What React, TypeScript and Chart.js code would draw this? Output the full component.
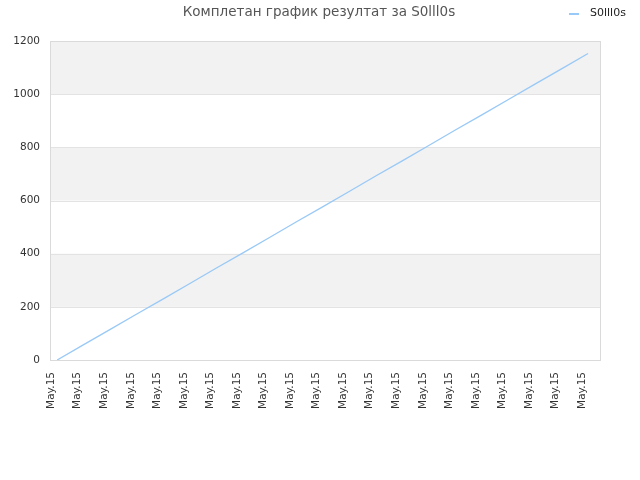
import React, { useEffect, useRef } from "react";
import { Chart, registerables } from "chart.js";

Chart.register(...registerables);

const TITLE = "Комплетан график резултат за S0lll0s";
const SERIES_LABEL = "S0lll0s";
const X_LABELS = Array(21).fill("May.15");
const SERIES_VALUES = [0, 58, 115, 173, 230, 288, 346, 403, 461, 519, 576, 634, 692, 749, 807, 865, 922, 980, 1038, 1095, 1153];
const Y_MIN = 0;
const Y_MAX = 1200;
const Y_STEP = 200;

const FONT = "'DejaVu Sans', sans-serif";
const LINE_COLOR = "#99c9f7";

const bandsPlugin = {
  id: "bands",
  beforeDatasetsDraw(chart: any) {
    const { ctx, chartArea, scales } = chart;
    const y = scales.y;
    ctx.save();
    ctx.fillStyle = "#f2f2f2";
    for (let v = Y_MIN + Y_STEP; v < Y_MAX; v += Y_STEP * 2) {
      const top = y.getPixelForValue(v + Y_STEP);
      const bottom = y.getPixelForValue(v);
      ctx.fillRect(chartArea.left, top, chartArea.right - chartArea.left, bottom - top);
    }
    ctx.strokeStyle = "#e3e3e3";
    ctx.lineWidth = 1;
    for (let v = Y_MIN; v <= Y_MAX; v += Y_STEP) {
      const py = Math.round(y.getPixelForValue(v)) + 0.5;
      ctx.beginPath();
      ctx.moveTo(chartArea.left, py);
      ctx.lineTo(chartArea.right, py);
      ctx.stroke();
    }
    ctx.strokeStyle = "#dadada";
    ctx.strokeRect(
      Math.round(chartArea.left) + 0.5,
      Math.round(chartArea.top) + 0.5,
      Math.round(chartArea.right - chartArea.left),
      Math.round(chartArea.bottom - chartArea.top)
    );
    ctx.restore();
  },
};

const headerPlugin = {
  id: "header",
  afterDraw(chart: any) {
    const { ctx } = chart;
    const ds = chart.data.datasets[0];
    ctx.save();
    ctx.fillStyle = "#555";
    ctx.font = `13.5px ${FONT}`;
    ctx.textBaseline = "middle";
    ctx.textAlign = "center";
    ctx.fillText(TITLE, 319, 12);

    ctx.strokeStyle = ds.borderColor;
    ctx.lineWidth = 2;
    ctx.beginPath();
    ctx.moveTo(569, 14);
    ctx.lineTo(579, 14);
    ctx.stroke();
    ctx.fillStyle = "#222";
    ctx.font = `11px ${FONT}`;
    ctx.textAlign = "left";
    ctx.fillText(ds.label, 590, 13);
    ctx.restore();
  },
};

export default function App() {
  const ref = useRef<HTMLCanvasElement>(null);
  useEffect(() => {
    if (!ref.current) return;
    const chart = new Chart(ref.current, {
      type: "line",
      data: {
        datasets: [
          {
            label: SERIES_LABEL,
            data: SERIES_VALUES.map((v, i) => ({ x: i, y: v })),
            borderColor: LINE_COLOR,
            backgroundColor: LINE_COLOR,
            borderWidth: 1.3,
            pointRadius: 0,
            tension: 0,
          },
        ],
      },
      plugins: [bandsPlugin, headerPlugin],
      options: {
        animation: false,
        responsive: false,
        devicePixelRatio: 1,
        layout: { padding: { left: 0, right: 40, top: 41, bottom: 0 } },
        plugins: {
          legend: { display: false },
          tooltip: { enabled: false },
          title: { display: false },
        },
        scales: {
          x: {
            type: "linear",
            min: -0.27,
            max: 20.45,
            grid: { display: false, drawTicks: false },
            border: { display: false },
            afterFit: (s: any) => {
              s.height = 120;
            },
            afterBuildTicks: (s: any) => {
              s.ticks = X_LABELS.map((_, i) => ({ value: i }));
            },
            ticks: {
              autoSkip: false,
              minRotation: 90,
              maxRotation: 90,
              padding: 12,
              labelOffset: -6,
              color: "#333",
              font: { family: FONT, size: 10.5 },
              callback: (v: any) => X_LABELS[v] ?? "",
            },
          },
          y: {
            min: Y_MIN,
            max: Y_MAX,
            grid: { display: false, drawTicks: false },
            border: { display: false },
            afterFit: (s: any) => {
              s.width = 50;
            },
            ticks: {
              stepSize: Y_STEP,
              padding: 10,
              color: "#333",
              font: { family: FONT, size: 10.5 },
              callback: (v: any) => String(v),
            },
          },
        },
      },
    });
    return () => chart.destroy();
  }, []);
  return (
    <div style={{ position: "fixed", left: 0, top: 0, width: 640, height: 480, background: "#fff" }}>
      <canvas ref={ref} width={640} height={480} style={{ width: 640, height: 480 }} />
    </div>
  );
}
